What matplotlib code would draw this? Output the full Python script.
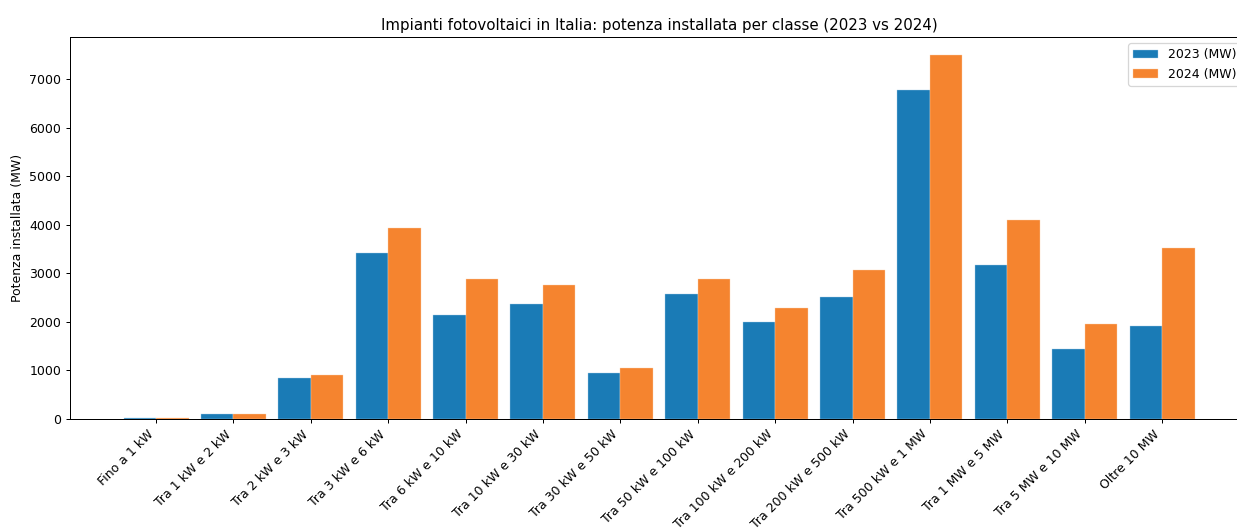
import matplotlib
matplotlib.use("Agg")
import matplotlib.pyplot as plt
import numpy as np

categories = ["Fino a 1 kW", "Tra 1 kW e 2 kW", "Tra 2 kW e 3 kW", "Tra 3 kW e 6 kW",
              "Tra 6 kW e 10 kW", "Tra 10 kW e 30 kW", "Tra 30 kW e 50 kW",
              "Tra 50 kW e 100 kW", "Tra 100 kW e 200 kW", "Tra 200 kW e 500 kW",
              "Tra 500 kW e 1 MW", "Tra 1 MW e 5 MW", "Tra 5 MW e 10 MW", "Oltre 10 MW"]
mw_2023 = [18, 95, 847, 3428, 2147, 2374, 950, 2581, 2003, 2519, 6793, 3180, 1445, 1927]
mw_2024 = [20, 100, 908, 3944, 2890, 2767, 1053, 2890, 2292, 3077, 7500, 4109, 1968, 3531]

DPI = 90
fig = plt.figure(figsize=(1237 / DPI, 529 / DPI), dpi=DPI)
ax = fig.add_axes([0.0566, 0.208, 0.9524, 0.722])

x = np.arange(len(categories))
w = 0.42
ax.bar(x - w / 2, mw_2023, w, color="#1a7bb6", edgecolor="#a9cfe6", linewidth=0.3, label="2023 (MW)")
ax.bar(x + w / 2, mw_2024, w, color="#f5842f", edgecolor="#fbd0ae", linewidth=0.3, label="2024 (MW)")

ax.set_xticks(x)
ax.set_xticklabels(categories, rotation=45, ha="right", fontsize=10)
ax.tick_params(axis="y", labelsize=10)
ax.set_ylabel("Potenza installata (MW)", fontsize=10)
ax.set_title("Impianti fotovoltaici in Italia: potenza installata per classe (2023 vs 2024)", fontsize=12)
ax.legend(loc="upper right", fontsize=10)

fig.savefig("out.png", dpi=DPI)
